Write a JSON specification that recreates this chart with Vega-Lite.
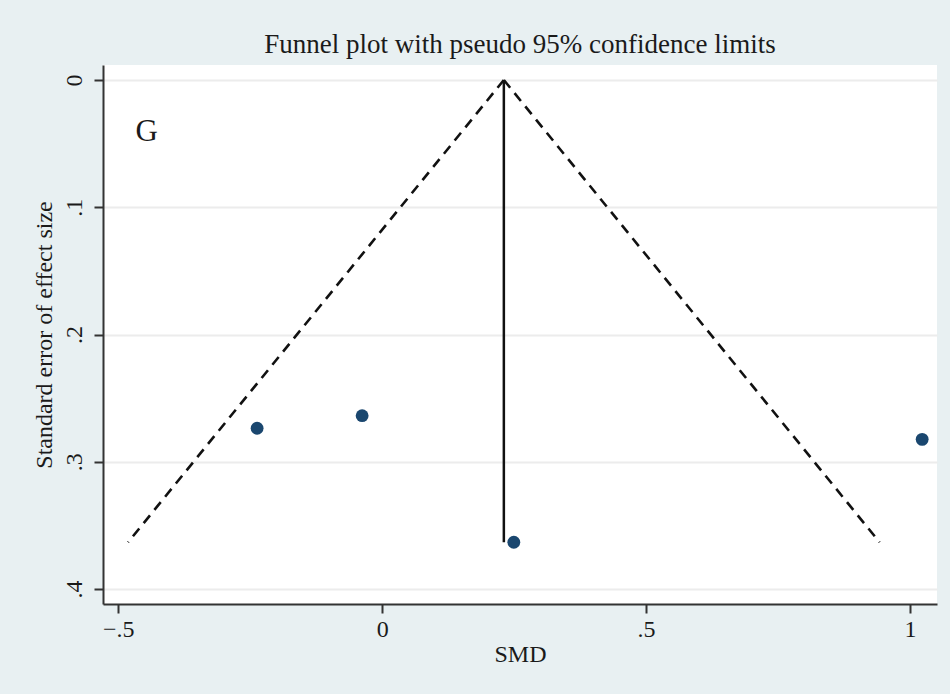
{
  "$schema": "https://vega.github.io/schema/vega-lite/v6.json",
  "width": 834,
  "height": 539,
  "autosize": {"type": "none"},
  "padding": {"left": 103, "top": 65, "right": 13, "bottom": 90},
  "background": "#e8f0f2",
  "config": {
    "view": {"fill": "#ffffff", "stroke": null},
    "font": "Liberation Serif"
  },
  "title": {
    "text": "Funnel plot with pseudo 95% confidence limits",
    "font": "Liberation Serif",
    "fontSize": 27,
    "fontWeight": "normal",
    "color": "#1a1a1a",
    "anchor": "middle",
    "offset": 6
  },
  "datasets": {
    "studies": [
      {"smd": -0.237, "se": 0.2737},
      {"smd": -0.038, "se": 0.2638},
      {"smd": 0.2494, "se": 0.3633},
      {"smd": 1.0231, "se": 0.2824}
    ],
    "funnel": [
      {"side": "left", "smd": 0.2305, "se": 0},
      {"side": "left", "smd": -0.4815, "se": 0.3633},
      {"side": "right", "smd": 0.2305, "se": 0},
      {"side": "right", "smd": 0.9425, "se": 0.3633}
    ],
    "pooled": [
      {"smd": 0.2305, "se": 0},
      {"smd": 0.2305, "se": 0.3633}
    ],
    "panel": [
      {"label": "G", "smd": -0.4674, "se": 0.0409}
    ]
  },
  "encoding": {
    "x": {
      "field": "smd",
      "type": "quantitative",
      "title": "SMD",
      "scale": {"domain": [-0.529, 1.0512], "nice": false, "zero": false},
      "axis": {
        "values": [-0.5, 0, 0.5, 1],
        "labelExpr": "datum.value == -0.5 ? '\u2212.5' : (datum.value == 0.5 ? '.5' : format(datum.value, 'd'))",
        "grid": false,
        "domainColor": "#333333",
        "domainWidth": 2,
        "tickColor": "#333333",
        "tickWidth": 2,
        "tickSize": 9,
        "labelFont": "Liberation Serif",
        "labelFontSize": 24,
        "labelColor": "#1a1a1a",
        "labelPadding": 4,
        "labelFlush": false,
        "titleFont": "Liberation Serif",
        "titleFontSize": 24,
        "titleFontWeight": "normal",
        "titleColor": "#1a1a1a",
        "titlePadding": 1
      }
    },
    "y": {
      "field": "se",
      "type": "quantitative",
      "title": "Standard error of effect size",
      "scale": {"domain": [-0.01179, 0.41179], "nice": false, "zero": false, "reverse": true},
      "axis": {
        "values": [0, 0.1, 0.2, 0.3, 0.4],
        "labelExpr": "datum.value == 0 ? '0' : replace(format(datum.value, '.1f'), '0.', '.')",
        "labelAngle": -90,
        "grid": true,
        "gridColor": "#ececec",
        "gridWidth": 2,
        "domainColor": "#333333",
        "domainWidth": 2,
        "tickColor": "#333333",
        "tickWidth": 2,
        "tickSize": 9,
        "labelFont": "Liberation Serif",
        "labelFontSize": 24,
        "labelColor": "#1a1a1a",
        "labelPadding": 8,
        "labelFlush": false,
        "titleFont": "Liberation Serif",
        "titleFontSize": 24,
        "titleFontWeight": "normal",
        "titleColor": "#1a1a1a",
        "titlePadding": 6
      }
    }
  },
  "layer": [
    {
      "data": {"name": "funnel"},
      "mark": {"type": "line", "color": "#111111", "strokeWidth": 2.6, "strokeDash": [10, 7]},
      "encoding": {"detail": {"field": "side"}, "order": {"field": "se", "type": "quantitative"}}
    },
    {
      "data": {"name": "pooled"},
      "mark": {"type": "line", "color": "#111111", "strokeWidth": 2.5},
      "encoding": {}
    },
    {
      "data": {"name": "studies"},
      "mark": {"type": "point", "filled": true, "shape": "circle", "size": 165, "color": "#1a476f", "opacity": 1},
      "encoding": {}
    },
    {
      "data": {"name": "panel"},
      "mark": {"type": "text", "align": "left", "baseline": "middle", "font": "Liberation Serif", "fontSize": 31, "color": "#1a1a1a"},
      "encoding": {"text": {"field": "label"}}
    }
  ]
}
